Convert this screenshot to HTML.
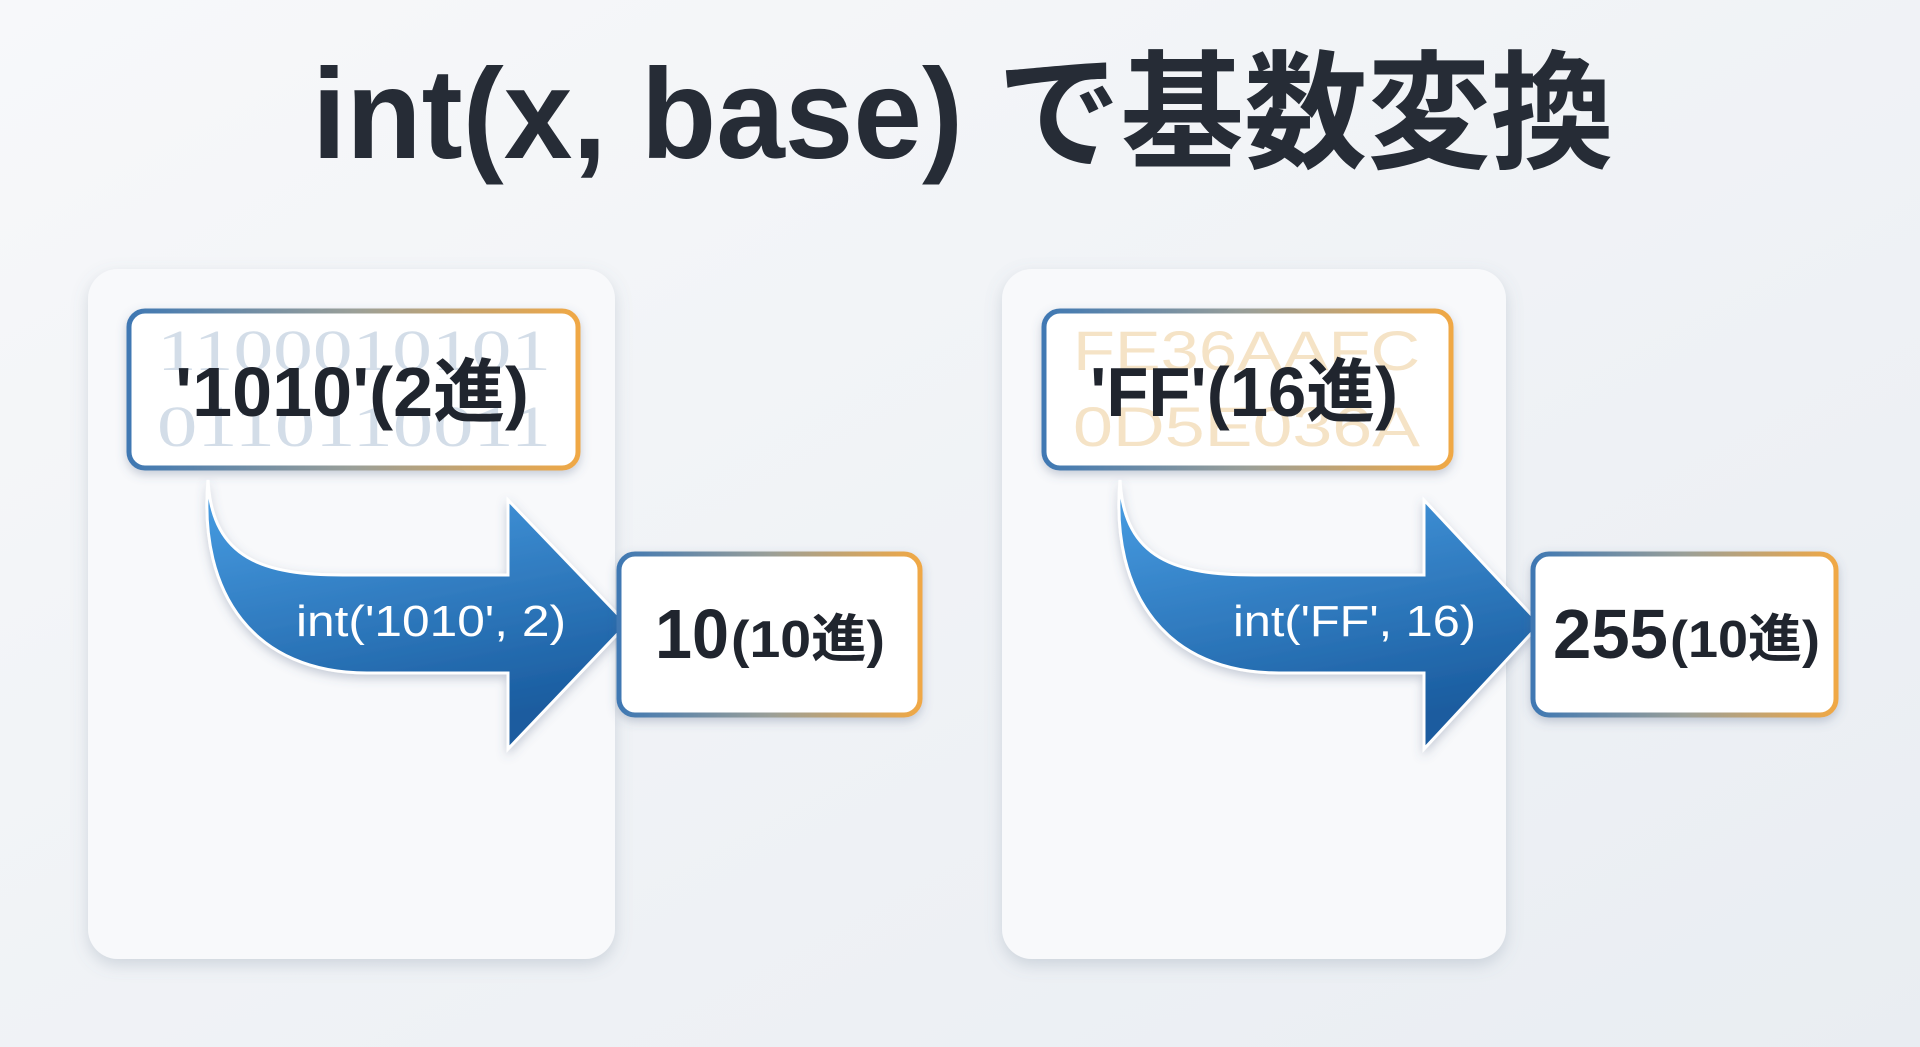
<!DOCTYPE html>
<html><head><meta charset="utf-8"><style>
html,body{margin:0;padding:0;width:1920px;height:1047px;overflow:hidden;background:#f1f3f7}
</style></head><body>
<svg width="1920" height="1047" viewBox="0 0 1920 1047" xmlns="http://www.w3.org/2000/svg">
<defs>
<linearGradient id="bg" x1="0" y1="0" x2="1" y2="1"><stop offset="0" stop-color="#f7f8fa"/><stop offset="1" stop-color="#e9edf2"/></linearGradient>
<linearGradient id="bd" x1="0" y1="0" x2="1" y2="0"><stop offset="0" stop-color="#3f78b3"/><stop offset="0.5" stop-color="#9a9f98"/><stop offset="1" stop-color="#f0a845"/></linearGradient>
<linearGradient id="ar" x1="0" y1="0" x2="0.3" y2="1"><stop offset="0" stop-color="#4aa0e6"/><stop offset="1" stop-color="#1a5c9f"/></linearGradient>
<filter id="sh" x="-20%" y="-20%" width="140%" height="140%"><feDropShadow dx="0" dy="6" stdDeviation="8" flood-color="#6a7a90" flood-opacity="0.25"/></filter>
<filter id="sh2" x="-20%" y="-20%" width="140%" height="140%"><feDropShadow dx="0" dy="4" stdDeviation="5" flood-color="#506080" flood-opacity="0.3"/></filter>
</defs>
<rect width="1920" height="1047" fill="url(#bg)"/>
<text x="312" y="158" font-family="Liberation Sans, Noto Sans CJK JP, sans-serif" font-weight="bold" font-size="128" fill="#262c36" textLength="1302" lengthAdjust="spacingAndGlyphs">int(x, base) で基数変換</text>

<rect x="88" y="269" width="527" height="690" rx="30" fill="#f8f9fb" filter="url(#sh)"/>
<rect x="1002" y="269" width="504" height="690" rx="30" fill="#f8f9fb" filter="url(#sh)"/>

<g font-family="Liberation Sans, Noto Sans CJK JP, sans-serif" font-weight="bold">
<rect x="129" y="311" width="449" height="157" rx="16" fill="#fff" stroke="url(#bd)" stroke-width="5" filter="url(#sh2)"/>
<text x="157" y="370" font-family="Liberation Serif, serif" font-weight="normal" font-size="58" fill="#d3dde8" textLength="394" lengthAdjust="spacingAndGlyphs">1100010101</text>
<text x="157" y="446" font-family="Liberation Serif, serif" font-weight="normal" font-size="58" fill="#d3dde8" textLength="394" lengthAdjust="spacingAndGlyphs">0110110011</text>
<text x="175" y="416" font-size="70" fill="#20252e" textLength="354" lengthAdjust="spacingAndGlyphs">'1010'(2進)</text>

<path d="M208,480 C212,560 265,575 343,575 L508,575 L508,500 L627,624 L508,749 L508,673 L367,673 C255,673 198,595 208,480 Z" fill="url(#ar)" stroke="#fff" stroke-width="3" filter="url(#sh2)"/>
<text x="296" y="636" font-weight="normal" font-size="44" fill="#fff" textLength="270" lengthAdjust="spacingAndGlyphs">int('1010', 2)</text>

<rect x="619" y="554" width="301" height="161" rx="16" fill="#fff" stroke="url(#bd)" stroke-width="5" filter="url(#sh2)"/>
<text x="655" y="658" font-size="70" fill="#20252e" textLength="74" lengthAdjust="spacingAndGlyphs">10</text>
<text x="731" y="657" font-size="52" fill="#20252e" textLength="154" lengthAdjust="spacingAndGlyphs">(10進)</text>

<rect x="1044" y="311" width="407" height="157" rx="16" fill="#fff" stroke="url(#bd)" stroke-width="5" filter="url(#sh2)"/>
<text x="1073" y="370" font-family="Liberation Sans, sans-serif" font-weight="normal" font-size="56" fill="#f5e3c6" textLength="347" lengthAdjust="spacingAndGlyphs">FE36AAFC</text>
<text x="1073" y="446" font-family="Liberation Sans, sans-serif" font-weight="normal" font-size="56" fill="#f5e3c6" textLength="347" lengthAdjust="spacingAndGlyphs">0D5E036A</text>
<text x="1090" y="416" font-size="70" fill="#20252e" textLength="308" lengthAdjust="spacingAndGlyphs">'FF'(16進)</text>

<path d="M1120,480 C1124,560 1177,575 1255,575 L1424,575 L1424,500 L1540,624 L1424,749 L1424,673 L1279,673 C1167,673 1110,595 1120,480 Z" fill="url(#ar)" stroke="#fff" stroke-width="3" filter="url(#sh2)"/>
<text x="1233" y="636" font-weight="normal" font-size="44" fill="#fff" textLength="243" lengthAdjust="spacingAndGlyphs">int('FF', 16)</text>

<rect x="1533" y="554" width="303" height="161" rx="16" fill="#fff" stroke="url(#bd)" stroke-width="5" filter="url(#sh2)"/>
<text x="1553" y="658" font-size="70" fill="#20252e" textLength="115" lengthAdjust="spacingAndGlyphs">255</text>
<text x="1670" y="657" font-size="52" fill="#20252e" textLength="150" lengthAdjust="spacingAndGlyphs">(10進)</text>
</g>
</svg>
</body></html>
